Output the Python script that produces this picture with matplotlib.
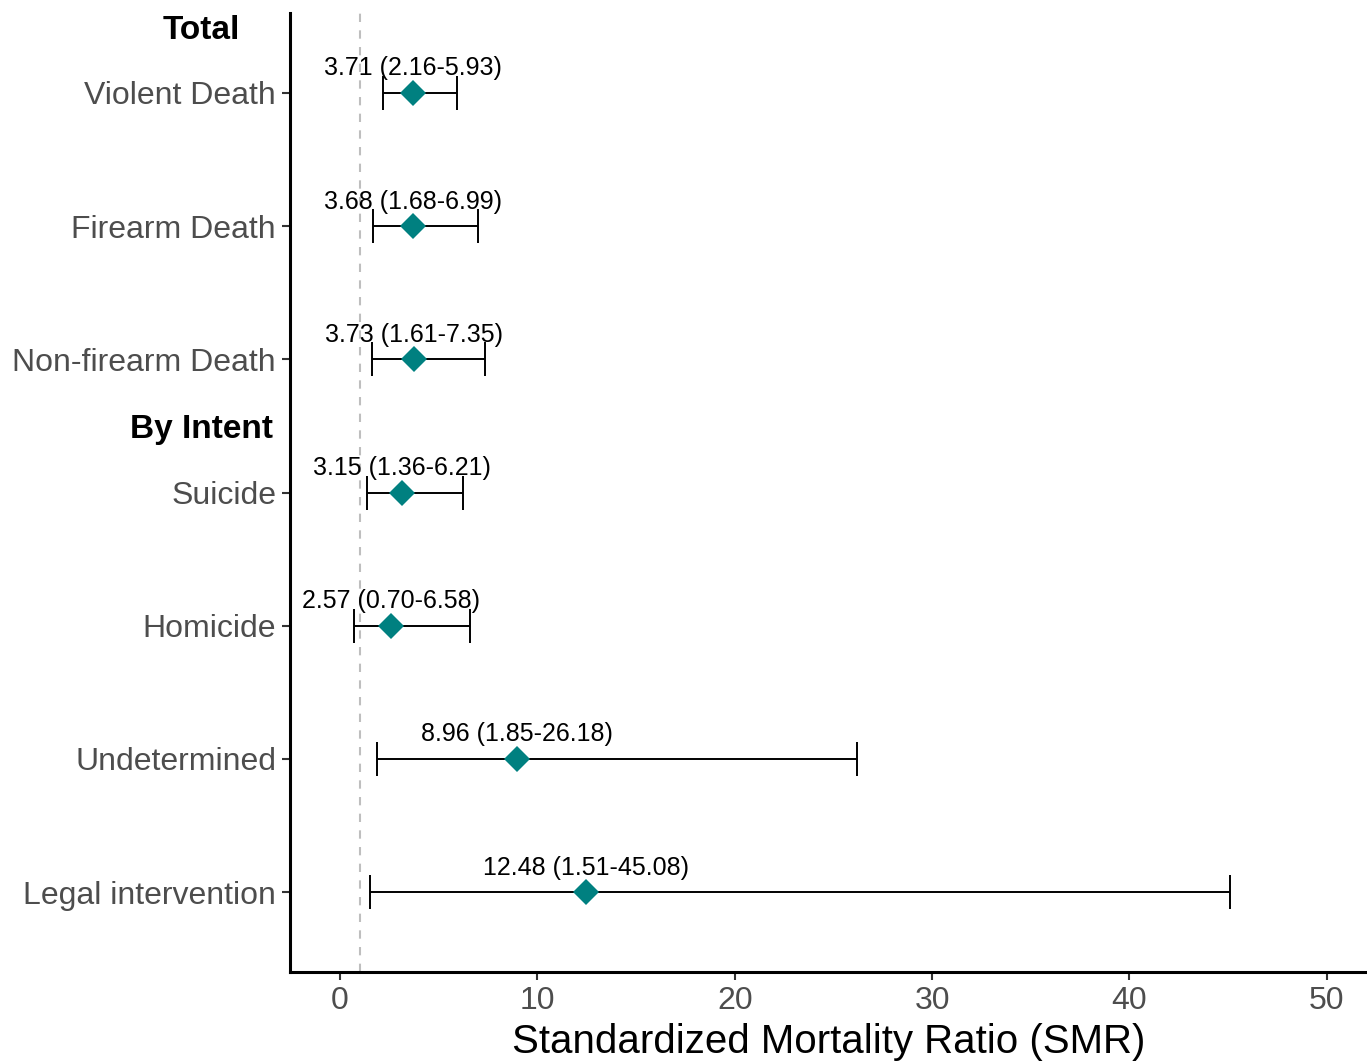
import matplotlib
matplotlib.use("Agg")
import matplotlib.pyplot as plt
import matplotlib.transforms as mtransforms

categories = ["Violent Death", "Firearm Death", "Non-firearm Death",
              "Suicide", "Homicide", "Undetermined", "Legal intervention"]
smr = [3.71, 3.68, 3.73, 3.15, 2.57, 8.96, 12.48]
lower = [2.16, 1.68, 1.61, 1.36, 0.70, 1.85, 1.51]
upper = [5.93, 6.99, 7.35, 6.21, 6.58, 26.18, 45.08]
headers = ["Total", "By Intent"]
header_pos = [7.5, 4.5]
xticks = [0, 10, 20, 30, 40, 50]

plt.rcParams['font.family'] = ['Liberation Sans', 'DejaVu Sans']

fig = plt.figure(figsize=(13.67, 10.61), dpi=100)
ax = fig.add_axes([290/1367, 1 - 972/1061, 1 - 290/1367, (972-13)/1061])

n = len(categories)
ypos = [n - i for i in range(n)]

ax.axvline(1, color='#BEBEBE', linestyle=(0, (4, 4)), linewidth=1.5, zorder=1)

for y, m, lo, hi in zip(ypos, smr, lower, upper):
    ax.errorbar(m, y, xerr=[[m - lo], [hi - m]], fmt='none', ecolor='black',
                elinewidth=1.4, capsize=12, capthick=1.4, zorder=2)
ax.plot(smr, ypos, linestyle='none', marker='D', markersize=13,
        color='#008080', markeredgewidth=0, zorder=3)

for y, m, lo, hi in zip(ypos, smr, lower, upper):
    ax.annotate(f"{m:.2f} ({lo:.2f}-{hi:.2f})", xy=(m, y), xytext=(0, 9),
                textcoords='offset points', ha='center', va='bottom',
                fontsize=18, color='black')

ax.set_xlim(-2.54, 52.04)
ax.set_ylim(0.4, 7.6)
ax.set_xticks(xticks)
ax.set_xticklabels([str(t) for t in xticks])
ax.set_yticks(ypos)
ax.set_yticklabels(categories)
ax.tick_params(axis='both', labelsize=23, labelcolor='#4D4D4D', color='#333333',
               length=6, width=1.5)
ax.tick_params(axis='x', pad=4)
ax.tick_params(axis='y', pad=4)

for s in ['top', 'right']:
    ax.spines[s].set_visible(False)
for s in ['left', 'bottom']:
    ax.spines[s].set_linewidth(2.2)
    ax.spines[s].set_color('black')

trans = mtransforms.blended_transform_factory(fig.transFigure, ax.transData)
hdr_offset = mtransforms.ScaledTranslation(0, -4/100, fig.dpi_scale_trans)
for h, hp in zip(headers, header_pos):
    ax.text(201/1367, hp, h, transform=trans + hdr_offset, ha='center', va='center',
            fontsize=24, fontweight='bold', color='black', clip_on=False)

ax.set_xlabel("Standardized Mortality Ratio (SMR)", fontsize=29, color='black',
              labelpad=5)

fig.savefig("out.png", dpi=100)
